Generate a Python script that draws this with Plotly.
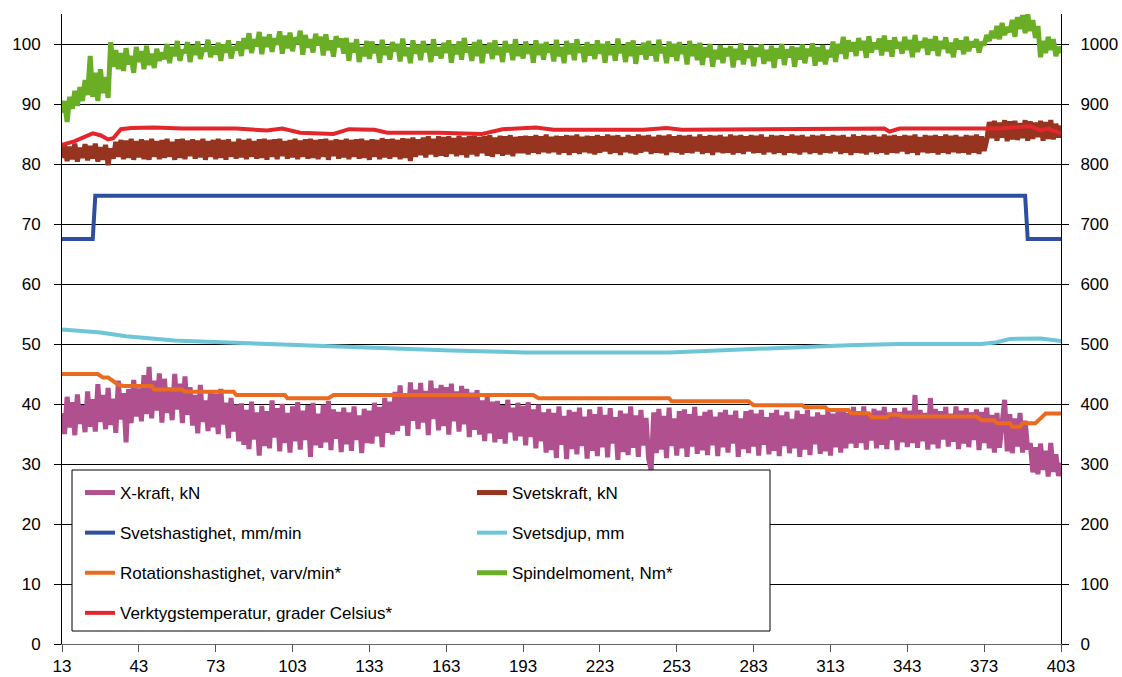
import plotly.graph_objects as go

# ---------------- data ----------------
x_start = 13
x_tick_labels = [13, 43, 73, 103, 133, 163, 193, 223, 253, 283, 313, 343, 373, 403]
left_ticks = [0, 10, 20, 30, 40, 50, 60, 70, 80, 90, 100]
right_ticks = [0, 100, 200, 300, 400, 500, 600, 700, 800, 900, 1000]

# X-kraft, kN (one value per category 13..403)
x_kraft = [
    38.5, 35.0, 41.2, 36.1, 40.3, 34.8, 41.6, 36.7, 39.8, 35.3,   # 13
    42.1, 36.2, 40.8, 35.4, 43.3, 37.0, 41.5, 35.8, 42.7, 36.5,   # 23
    40.9, 35.2, 43.9, 37.4, 41.8, 33.6, 42.5, 36.8, 44.0, 37.9,   # 33
    42.6, 37.1, 44.8, 38.3, 46.2, 37.6, 43.9, 38.9, 45.1, 36.9,   # 43
    44.2, 38.5, 42.7, 37.3, 45.0, 39.1, 43.4, 36.8, 44.6, 38.2,   # 53
    42.8, 36.4, 41.5, 35.1, 43.2, 37.0, 40.6, 35.5, 42.3, 36.1,   # 63
    41.7, 35.0, 42.5, 36.6, 40.2, 34.3, 41.0, 35.4, 39.9, 33.8,   # 73
    40.1, 33.2, 39.0, 32.5, 40.4, 34.1, 38.6, 31.4, 39.7, 33.0,   # 83
    38.8, 32.6, 40.6, 34.4, 39.3, 32.1, 40.0, 33.5, 38.5, 31.9,   # 93
    39.6, 33.8, 40.3, 32.4, 38.9, 34.0, 39.8, 31.2, 40.2, 33.1,   # 103
    38.4, 32.7, 39.9, 33.6, 40.5, 32.3, 39.1, 34.2, 38.7, 32.0,   # 113
    39.4, 33.3, 38.6, 32.2, 39.6, 34.0, 38.1, 31.8, 39.2, 33.5,   # 123
    38.9, 33.4, 40.2, 34.6, 39.5, 32.8, 41.0, 35.2, 40.4, 34.9,   # 133
    42.0, 35.5, 43.1, 36.4, 41.8, 34.7, 43.6, 37.2, 42.4, 35.8,   # 143
    43.5, 36.9, 42.2, 34.8, 43.9, 37.5, 42.6, 35.6, 43.2, 36.3,   # 153
    42.8, 34.9, 43.4, 37.1, 42.1, 35.4, 43.0, 36.6, 42.5, 34.5,   # 163
    41.9, 35.7, 42.3, 34.9, 40.6, 33.8, 41.2, 35.1, 40.4, 33.6,   # 173
    40.5, 34.2, 39.8, 33.4, 40.7, 35.3, 39.4, 33.9, 40.2, 34.6,   # 183
    39.7, 33.1, 40.3, 34.5, 39.1, 32.6, 39.9, 33.8, 38.6, 31.9,   # 193
    39.2, 32.3, 38.5, 31.0, 39.6, 33.2, 38.0, 30.8, 39.0, 32.5,   # 203
    38.7, 31.6, 39.4, 33.0, 37.9, 30.9, 39.1, 32.2, 38.3, 31.3,   # 213
    39.5, 32.8, 38.2, 31.1, 39.3, 33.4, 37.8, 30.7, 38.9, 32.0,   # 223
    38.4, 31.5, 39.6, 32.7, 38.1, 31.2, 39.0, 33.1, 37.7, 30.9,   # 233
    29.0, 38.6, 31.8, 39.2, 32.4, 38.0, 31.0, 39.4, 33.0, 37.6,   # 243
    31.4, 38.8, 32.6, 39.1, 31.2, 38.3, 32.9, 39.5, 31.7, 38.0,   # 253
    32.3, 38.7, 31.5, 39.0, 33.1, 37.9, 31.3, 38.6, 32.8, 39.0,   # 263
    31.9, 38.2, 33.4, 38.9, 31.2, 37.6, 32.5, 38.8, 31.8, 39.0,   # 273
    32.9, 38.4, 31.4, 39.0, 33.2, 37.8, 31.6, 38.5, 32.2, 39.0,   # 283
    31.3, 38.1, 33.0, 38.7, 31.8, 37.5, 32.6, 38.9, 31.2, 38.3,   # 293
    32.4, 39.0, 31.5, 37.9, 33.3, 38.6, 31.7, 38.2, 32.1, 39.0,   # 303
    31.4, 38.4, 32.8, 38.9, 31.9, 39.3, 32.6, 38.5, 33.4, 39.5,   # 313
    32.7, 38.8, 33.5, 39.6, 32.4, 38.4, 33.9, 39.2, 32.6, 38.9,   # 323
    33.2, 39.5, 32.5, 38.6, 34.0, 39.3, 32.3, 38.7, 33.6, 39.4,   # 333
    32.8, 38.9, 33.5, 41.5, 32.7, 39.0, 33.8, 38.5, 32.4, 41.0,   # 343
    33.3, 39.2, 32.6, 38.8, 34.1, 39.5, 32.9, 38.4, 33.7, 39.6,   # 353
    32.5, 38.9, 33.4, 39.3, 32.8, 38.6, 34.0, 39.1, 32.3, 38.7,   # 363
    33.5, 39.4, 32.6, 38.2, 31.9, 38.5, 32.7, 37.9, 40.7, 32.1,   # 373
    38.3, 31.8, 37.6, 32.9, 38.5, 31.9, 37.2, 32.4, 33.5, 28.6,   # 383
    32.8, 28.3, 33.4, 29.0, 32.2, 27.9, 33.5, 28.7, 31.6, 28.0, 30.2,  # 393..403
]

# Svetskraft, kN
svetskraft = [
    81.0, 83.1, 80.5, 82.9, 80.8, 83.4, 80.4, 82.7, 81.0, 83.3,   # 13
    80.6, 83.0, 80.9, 83.4, 80.4, 82.8, 80.7, 83.2, 79.8, 82.6,   # 23
    80.9, 83.7, 81.2, 84.0, 80.8, 83.9, 81.0, 84.2, 80.7, 83.8,   # 33
    81.1, 84.1, 80.8, 83.9, 80.7, 84.2, 81.2, 83.8, 80.8, 84.0,   # 43
    81.0, 84.2, 81.2, 83.7, 80.7, 84.1, 81.0, 84.2, 80.8, 83.9,   # 53
    81.3, 84.1, 80.9, 83.9, 81.1, 84.2, 80.7, 83.8, 81.2, 84.0,   # 63
    80.8, 84.2, 81.0, 84.0, 80.7, 84.1, 81.2, 83.7, 80.9, 84.2,   # 73
    81.1, 84.0, 80.8, 84.2, 81.2, 83.8, 80.9, 84.1, 81.0, 84.2,   # 83
    80.7, 84.0, 81.2, 84.1, 80.8, 84.2, 81.3, 83.8, 80.9, 84.0,   # 93
    81.1, 84.2, 80.8, 83.9, 81.2, 84.1, 80.9, 84.2, 81.0, 84.0,   # 103
    80.8, 84.1, 81.2, 84.2, 80.7, 83.9, 81.3, 84.1, 80.9, 84.0,   # 113
    81.1, 84.2, 80.8, 84.0, 81.2, 84.1, 80.9, 84.2, 81.0, 83.9,   # 123
    80.7, 84.1, 81.2, 84.0, 80.8, 84.3, 81.1, 84.1, 80.9, 84.2,   # 133
    81.2, 84.0, 80.8, 84.3, 81.0, 84.2, 80.5, 84.4, 81.2, 84.1,   # 143
    81.5, 84.4, 81.1, 84.6, 81.6, 84.2, 81.2, 84.6, 81.4, 84.5,   # 153
    81.2, 84.6, 81.7, 84.3, 81.3, 84.7, 81.5, 84.4, 81.1, 84.6,   # 163
    81.6, 84.7, 81.3, 84.5, 81.8, 84.6, 81.4, 84.8, 81.2, 84.4,   # 173
    81.7, 84.7, 81.4, 84.6, 81.6, 84.8, 81.3, 84.5, 81.8, 84.6,   # 183
    81.8, 84.7, 81.6, 84.6, 81.9, 84.8, 81.7, 84.6, 82.0, 84.9,   # 193
    81.8, 84.5, 82.0, 84.7, 81.6, 84.6, 81.9, 84.8, 81.5, 84.7,   # 203
    81.9, 84.9, 81.7, 84.5, 82.0, 84.7, 81.8, 84.6, 81.6, 84.8,   # 213
    81.9, 84.6, 82.1, 84.9, 81.7, 84.7, 81.9, 84.8, 81.5, 84.5,   # 223
    82.0, 84.8, 81.8, 84.6, 81.6, 84.9, 81.9, 84.7, 82.1, 84.8,   # 233
    81.7, 84.5, 81.9, 84.8, 81.8, 84.7, 81.5, 84.9, 82.0, 84.6,   # 243
    81.9, 84.8, 81.6, 84.7, 81.9, 84.8, 81.8, 84.5, 82.1, 84.9,   # 253
    81.7, 84.6, 81.9, 84.8, 81.5, 84.7, 82.0, 84.8, 81.8, 84.5,   # 263
    81.9, 84.9, 81.6, 84.7, 81.9, 84.8, 81.7, 84.6, 82.1, 84.8,   # 273
    81.8, 84.7, 81.9, 84.9, 81.6, 84.5, 82.0, 84.8, 81.7, 84.7,   # 283
    81.9, 84.8, 81.5, 84.6, 81.9, 84.9, 81.8, 84.7, 81.6, 84.8,   # 293
    82.0, 84.5, 81.7, 84.8, 81.9, 84.7, 81.6, 84.9, 81.9, 84.6,   # 303
    81.8, 84.8, 82.1, 84.7, 81.7, 84.8, 81.9, 84.5, 81.5, 84.9,   # 313
    81.9, 84.6, 81.8, 84.8, 81.6, 84.7, 82.0, 84.8, 81.7, 84.5,   # 323
    81.9, 84.9, 81.6, 84.7, 81.9, 84.8, 81.8, 84.6, 82.1, 84.8,   # 333
    81.7, 84.7, 81.9, 84.9, 81.5, 84.5, 82.0, 84.8, 81.8, 84.7,   # 343
    81.9, 84.8, 81.6, 84.6, 81.9, 84.9, 81.7, 84.7, 82.0, 84.8,   # 353
    81.8, 84.5, 81.9, 84.8, 81.6, 84.7, 81.9, 84.9, 81.7, 84.6,   # 363
    82.2, 84.0, 87.0, 84.3, 87.2, 83.9, 86.9, 84.4, 87.3, 83.8,   # 373
    87.1, 84.1, 87.2, 84.0, 86.8, 84.3, 87.3, 83.9, 87.1, 84.2,   # 383
    86.9, 84.5, 87.2, 83.9, 87.0, 84.2, 87.3, 84.1, 86.7, 84.4, 86.4,  # 393..403
]

# Spindelmoment, Nm* (right axis)
spindelmoment = [
    885, 905, 870, 912, 892, 922, 897, 928, 905, 940,   # 13
    915, 980, 912, 952, 905, 958, 918, 945, 910, 1003,  # 23
    962, 990, 958, 985, 955, 993, 966, 980, 952, 995,   # 33
    970, 988, 958, 997, 965, 984, 960, 992, 972, 986,   # 43
    975, 1000, 968, 995, 980, 1005, 972, 990, 985, 1003,  # 53
    970, 998, 982, 1004, 975, 993, 988, 1007, 978, 996,   # 63
    983, 1002, 972, 999, 986, 1006, 976, 995, 990, 1004,  # 73
    980, 1010, 992, 1018, 985, 1008, 996, 1020, 983, 1012,  # 83
    995, 1016, 987, 1009, 999, 1021, 984, 1014, 993, 1019,  # 93
    988, 1011, 1000, 1022, 982, 1015, 994, 1008, 986, 1017,  # 103
    998, 1012, 981, 1016, 990, 1006, 979, 1013, 995, 1009,  # 113
    984, 1010, 972, 1002, 986, 1008, 970, 995, 980, 1005,  # 123
    975, 1004, 985, 998, 969, 1007, 982, 996, 974, 1003,   # 133
    988, 1000, 971, 1009, 980, 994, 968, 1006, 984, 999,   # 143
    973, 1005, 987, 997, 970, 1008, 981, 995, 976, 1002,   # 153
    985, 1006, 969, 999, 983, 1004, 974, 1010, 986, 996,   # 163
    972, 1003, 980, 1007, 968, 998, 985, 1002, 975, 1006,  # 173
    982, 995, 970, 1005, 987, 999, 973, 1008, 980, 997,    # 183
    976, 1004, 984, 998, 969, 1006, 982, 1000, 974, 1003,  # 193
    986, 997, 971, 1007, 980, 995, 968, 1005, 983, 1001,   # 203
    973, 1008, 986, 996, 970, 1003, 981, 999, 975, 1006,   # 213
    984, 1000, 969, 1004, 982, 997, 972, 1009, 985, 998,   # 223
    970, 1003, 980, 1006, 967, 996, 983, 1002, 974, 1005,  # 233
    981, 998, 971, 1007, 985, 995, 968, 1004, 979, 1000,   # 243
    972, 1003, 984, 997, 966, 1005, 980, 999, 973, 1002,   # 253
    965, 995, 978, 1000, 962, 990, 975, 998, 968, 993,     # 263
    980, 996, 961, 992, 974, 1001, 966, 989, 977, 997,     # 273
    963, 994, 979, 999, 967, 990, 972, 997, 960, 993,      # 283
    976, 1000, 965, 991, 978, 996, 962, 994, 974, 999,     # 293
    968, 992, 980, 1001, 964, 995, 971, 998, 966, 990,     # 303
    978, 1004, 970, 1000, 984, 1012, 975, 1006, 988, 1003,  # 313
    980, 1010, 990, 1005, 977, 1013, 986, 1002, 992, 1009,  # 323
    981, 1014, 988, 1006, 979, 1011, 993, 1003, 984, 1012,  # 333
    990, 1007, 978, 1015, 987, 1004, 994, 1010, 982, 1008,  # 343
    989, 1013, 980, 1005, 992, 1011, 985, 1002, 978, 1009,  # 353
    991, 1006, 983, 1012, 988, 1004, 995, 1008, 986, 1003,  # 363
    998, 1015, 1005, 1022, 1010, 1030, 1008, 1035, 1015, 1028,  # 373
    1020, 1040, 1012, 1045, 1025, 1048, 1018, 1050, 1022, 1040,  # 383
    1010, 1030, 978, 1005, 985, 1012, 990, 1008, 980, 995, 985,  # 393..403
]

# Svetshastighet, mm/min
svetshastighet_x = [13, 25, 26, 389, 390, 403]
svetshastighet_y = [67.5, 67.5, 74.7, 74.7, 67.5, 67.5]

# Svetsdjup, mm
svetsdjup_x = [13, 20, 28, 38, 47, 57, 67, 86, 106, 125, 145, 165, 194, 223, 250,
               262, 282, 301, 320, 340, 372, 378, 383, 395, 403]
svetsdjup_y = [52.4, 52.1, 51.9, 51.3, 50.9, 50.6, 50.4, 50.1, 49.8, 49.5, 49.2, 48.9,
               48.6, 48.55, 48.6, 48.8, 49.2, 49.55, 49.8, 50.0, 50.0, 50.3, 50.85, 50.9, 50.5]

# Rotationshastighet, varv/min* (right axis)
rotation_x = [13, 27, 29, 31, 33, 35, 37, 48, 49, 60, 61, 80, 81, 100, 101, 117, 119,
              197, 199, 250, 251, 281, 283, 302, 303, 311, 312, 320, 321, 328, 329, 335,
              336, 340, 341, 370, 372, 377, 378, 383, 384, 387, 388, 393, 395, 397, 403]
rotation_y = [450, 450, 444, 444, 438, 432, 430, 430, 424, 424, 420.5, 420.5, 415, 415,
              409.5, 409.5, 415, 415, 409.5, 409.5, 404.5, 404.5, 398, 398, 394.5, 394.5,
              390, 390, 384.5, 384.5, 378, 378, 382, 382, 379, 379, 373, 373, 368, 368,
              362, 362, 368, 368, 376, 384, 384]

# Verktygstemperatur, grader Celsius* (right axis)
temp_x = [13, 18, 25, 28, 31, 33, 36, 40, 49, 60, 81, 93, 99, 106, 119, 125, 135, 140,
          160, 177, 185, 198, 205, 240, 249, 255, 334, 336, 340, 379, 384, 391, 395, 398, 403]
temp_y = [832, 838, 851, 848, 841, 843, 858, 860, 861, 859, 859, 856, 859, 852, 850, 858,
          857, 852, 852, 850, 858, 861, 857, 857, 860, 857, 859, 854, 859, 859, 861, 863,
          856, 859, 851]

x_cat = list(range(x_start, x_start + len(x_kraft)))

# ---------------- styling ----------------
FONT = "Liberation Sans, Arial, sans-serif"
C_XKRAFT = "#b0508f"
C_SVETSKRAFT = "#96341f"
C_SVETSHAST = "#2e4f9f"
C_SVETSDJUP = "#6ec5d8"
C_ROT = "#ea6a1f"
C_SPINDEL = "#69ae24"
C_TEMP = "#e3262b"
LW = 4
LW_NOISY = 5

fig = go.Figure()

def add(x, y, name, color, yaxis, legend, group, width=LW, shape="linear"):
    fig.add_trace(go.Scatter(
        x=x, y=y, name=name, mode="lines", yaxis=yaxis,
        line=dict(color=color, width=width, shape=shape),
        legend=legend, legendgroup=group, hoverinfo="skip"))

# primary axis series
add(x_cat, x_kraft, "X-kraft, kN", C_XKRAFT, "y", "legend", "a1", LW_NOISY)
add(x_cat, svetskraft, "Svetskraft, kN", C_SVETSKRAFT, "y", "legend2", "b1", LW_NOISY)
add(svetshastighet_x, svetshastighet_y, "Svetshastighet, mm/min", C_SVETSHAST, "y", "legend", "a2")
add(svetsdjup_x, svetsdjup_y, "Svetsdjup, mm", C_SVETSDJUP, "y", "legend2", "b2")
# secondary axis series
add(rotation_x, rotation_y, "Rotationshastighet, varv/min*", C_ROT, "y2", "legend", "a3")
add(x_cat, spindelmoment, "Spindelmoment, Nm*", C_SPINDEL, "y2", "legend2", "b3", LW_NOISY)
add(temp_x, temp_y, "Verktygstemperatur, grader Celsius*", C_TEMP, "y2", "legend", "a4")

W, H = 1122, 677
L, R, T, B = 62, 1061, 14, 644
pw, ph = R - L, B - T

def px(xp):
    return (xp - L) / pw

def py(yp):
    return (B - yp) / ph

legend_common = dict(
    xanchor="left", yanchor="top", bgcolor="rgba(0,0,0,0)", borderwidth=0,
    font=dict(family=FONT, size=17, color="black"),
    traceorder="grouped", tracegroupgap=15, orientation="v", itemwidth=30,
)

fig.update_layout(
    width=W, height=H,
    margin=dict(l=L, r=W - R, t=T, b=H - B, pad=0),
    paper_bgcolor="white", plot_bgcolor="white",
    font=dict(family=FONT, size=17, color="black"),
    showlegend=True,
    legend=dict(x=px(80), y=py(475), **legend_common),
    legend2=dict(x=px(472), y=py(475), **legend_common),
    xaxis=dict(
        range=[13, 403], tickvals=x_tick_labels, ticktext=[str(v) for v in x_tick_labels],
        ticks="outside", ticklen=7, tickcolor="#555555", tickwidth=1,
        showline=True, linecolor="#666666", linewidth=1,
        showgrid=False, zeroline=False, automargin=False,
        tickfont=dict(family=FONT, size=17, color="black"),
    ),
    yaxis=dict(
        range=[0, 105], tickvals=left_ticks,
        ticks="outside", ticklen=7, tickcolor="black", tickwidth=1,
        showline=True, linecolor="black", linewidth=1,
        showgrid=True, gridcolor="black", gridwidth=1, zeroline=False, automargin=False,
        tickfont=dict(family=FONT, size=17, color="black"),
        ticklabelstandoff=10,
    ),
    yaxis2=dict(
        range=[0, 1050], tickvals=right_ticks, overlaying="y", side="right",
        ticks="outside", ticklen=7, tickcolor="black", tickwidth=1,
        showline=True, linecolor="black", linewidth=1,
        showgrid=False, zeroline=False, automargin=False,
        tickfont=dict(family=FONT, size=17, color="black"),
        ticklabelstandoff=8,
    ),
    shapes=[dict(
        type="rect", xref="paper", yref="paper",
        x0=px(72), x1=px(770), y0=py(631), y1=py(470),
        fillcolor="white", line=dict(color="black", width=1), layer="above",
    )],
)

fig.write_html(
    "out.html",
    config={"displayModeBar": False},
    post_script="document.body.style.margin='0';document.body.style.padding='0';",
)
